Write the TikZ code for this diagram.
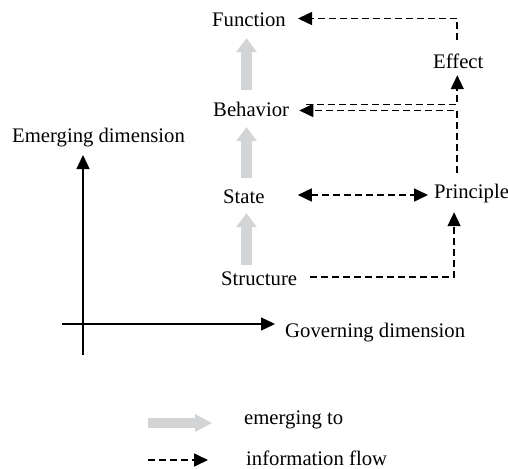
\documentclass[tikz,border=0pt]{standalone}
\usepackage{fontspec}
\setmainfont{Liberation Serif}
\usetikzlibrary{arrows.meta,calc}
\definecolor{emgray}{RGB}{211,212,214}
\tikzset{
  ft/.tip={Triangle[length=14pt,width=13pt]},
  gt/.tip={Triangle[length=14pt,width=21pt,line width=0pt]},
  lbl/.style={inner sep=0pt,text height=14pt,text depth=0pt,anchor=base west},
  flow/.style={line width=1.6pt,dash pattern=on 7pt off 4pt,-ft},
  emerge/.style={line width=11pt,draw=emgray,fill=emgray,-gt},
  axis/.style={line width=1.4pt,-{Triangle[length=14pt,width=13pt]}}
}
\begin{document}
\begin{tikzpicture}[x=1pt,y=-1pt,font=\fontsize{20.7}{24}\selectfont]
\useasboundingbox (0,0) rectangle (508,468);

% levels of the emerging dimension
\node[lbl] (fn)        at (212,27)  {Function};
\node[lbl] (beh)       at (213,117) {Behavior};
\node[lbl] (state)     at (223,203) {State};
\node[lbl] (structure) at (221,285) {Structure};
\node[lbl] (effect)    at (433,68.5) {Effect};
\node[lbl] (principle) at (434,198) {Principle};

% column of the grey "emerging" arrows
\coordinate (col) at (246.5,0);
\draw[emerge] ($(structure.north -| col)+(0,-6)$) -- ($(state.south -| col)+(0,10)$);
\draw[emerge] ($(state.north -| col)+(0,-11)$) -- ($(beh.south -| col)+(0,10)$);
\draw[emerge] ($(beh.north -| col)+(0,-13)$) -- ($(fn.south -| col)+(0,11)$);

% information flow
\draw[flow] ($(effect.north)+(-1,-14)$) |- ($(fn.east)+(12,-1.5)$);
\draw[flow] ($(beh.east)+(17,-5.5)$) -| ($(effect.south)+(-1,6.5)$);
\draw[flow] ($(principle.north -| effect.south)+(-1,-11)$) |- ($(beh.east)+(10,0.5)$);
\draw[flow,ft-ft] ($(state.east)+(33,-1)$) -- ($(state.east -| principle.west)+(-6,-1)$);
\draw[flow] ($(structure.east)+(13,-1)$) -| ($(principle.south)+(-17.5,14)$);

% axes
\coordinate (ybot) at (83,355);
\coordinate (ytop) at (83,155);
\coordinate (xleft) at (62,324);
\coordinate (xright) at (275,324);
\draw[axis] (ybot) -- (ytop);
\draw[axis] (xleft) -- (xright);
\node[lbl] (emdim) at (12,142) {Emerging dimension};
\node[lbl] (govdim) at (285,337) {Governing dimension};

% legend
\coordinate (lga) at (148,423);
\coordinate (lgb) at (212,423);
\coordinate (lfa) at (148,460);
\coordinate (lfb) at (208,460);
\draw[line width=10pt,emgray,-{Triangle[length=17pt,width=18pt,line width=0pt]}] (lga) -- (lgb);
\draw[flow] (lfa) -- (lfb);
\node[lbl] (lgt) at (244,424) {emerging to};
\node[lbl] (lft) at (246,465) {information flow};
\end{tikzpicture}
\end{document}
